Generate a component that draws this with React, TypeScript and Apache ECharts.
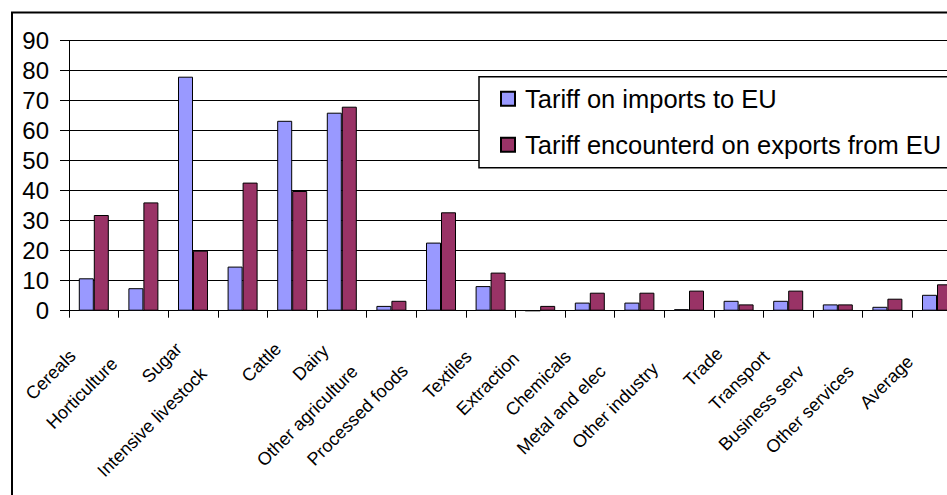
import React, { useEffect, useRef } from "react";
import * as echarts from "echarts";

const categories = [
  "Cereals",
  "Horticulture",
  "Sugar",
  "Intensive livestock",
  "Cattle",
  "Dairy",
  "Other agriculture",
  "Processed foods",
  "Textiles",
  "Extraction",
  "Chemicals",
  "Metal and elec",
  "Other industry",
  "Trade",
  "Transport",
  "Business serv",
  "Other services",
  "Average",
];

const seriesNames = ["Tariff on imports to EU", "Tariff encounterd on exports from EU"];

const importsToEU = [10.8, 7.5, 78, 14.7, 63.3, 66, 1.6, 22.7, 8.2, 0, 2.7, 2.7, 0.5, 3.3, 3.3, 2.1, 1.3, 5.3];
const exportsFromEU = [31.9, 36.1, 20, 42.7, 39.9, 68, 3.3, 32.8, 12.7, 1.6, 6, 6, 6.7, 2.1, 6.7, 2.1, 4, 8.8];

const yMin = 0;
const yMax = 90;
const yInterval = 10;

// style only: how far each rotated label is pushed down along its own direction (Excel stagger)
const labelShift = [30, 41, 20, 55, 20, 23, 52, 51, 31, 34, 31, 52, 48, 27, 31, 52, 52, 38];

const FONT = "'Liberation Sans', Arial, sans-serif";

export default function App() {
  const ref = useRef<HTMLDivElement>(null);

  useEffect(() => {
    const chart = echarts.init(ref.current as HTMLDivElement, null, { renderer: "svg" });
    chart.setOption({
      animation: false,
      backgroundColor: "#ffffff",
      textStyle: { fontFamily: FONT, color: "#000" },
      graphic: [
        {
          type: "rect",
          silent: true,
          z: -1,
          shape: { x: 12, y: 12.5, width: 1400, height: 900 },
          style: { fill: "none", stroke: "#000", lineWidth: 2 },
        },
      ],
      grid: {
        left: 69,
        top: 40.7,
        width: 892.8,
        height: 270,
        outerBoundsMode: "none",
        containLabel: false,
      },
      legend: {
        left: 479,
        top: 76.7,
        orient: "vertical",
        icon: "rect",
        itemWidth: 14,
        itemHeight: 14,
        itemGap: 20,
        padding: [9, 30, 10, 21],
        borderColor: "#000",
        borderWidth: 1.5,
        backgroundColor: "#fff",
        textStyle: { fontFamily: FONT, fontSize: 25.5, lineHeight: 26, color: "#000", padding: [0, 0, 0, 5] },
        data: seriesNames,
      },
      xAxis: {
        type: "category",
        data: categories.map((c, i) => ({
          value: c,
          textStyle: { padding: [0, labelShift[i], 0, 0] },
        })),
        boundaryGap: true,
        axisLine: { show: true, lineStyle: { color: "#000", width: 1 } },
        axisTick: { show: true, length: 7, interval: 0, lineStyle: { color: "#000", width: 1 } },
        axisLabel: {
          interval: 0,
          rotate: 45,
          margin: 21,
          fontSize: 18,
          fontFamily: FONT,
          color: "#000",
          hideOverlap: false,
        },
        splitLine: { show: false },
      },
      yAxis: {
        type: "value",
        min: yMin,
        max: yMax,
        interval: yInterval,
        axisLine: { show: true, lineStyle: { color: "#000", width: 1 } },
        axisTick: { show: true, length: 9, lineStyle: { color: "#000", width: 1 } },
        axisLabel: { fontSize: 24, margin: 20, color: "#000", fontFamily: FONT },
        splitLine: { show: true, lineStyle: { color: "#000", width: 1 } },
      },
      series: [
        {
          name: seriesNames[0],
          type: "bar",
          data: importsToEU,
          barWidth: 15,
          barGap: "0%",
          itemStyle: { color: "#9999FF", borderColor: "#000", borderWidth: 1 },
        },
        {
          name: seriesNames[1],
          type: "bar",
          data: exportsFromEU,
          barWidth: 15,
          barGap: "0%",
          itemStyle: { color: "#993366", borderColor: "#000", borderWidth: 1 },
        },
      ],
    });
    return () => chart.dispose();
  }, []);

  return (
    <div
      style={{
        position: "fixed",
        left: 0,
        top: 0,
        width: 947,
        height: 495,
        overflow: "hidden",
        background: "#fff",
      }}
    >
      <div ref={ref} style={{ width: 1010, height: 520 }} />
    </div>
  );
}
